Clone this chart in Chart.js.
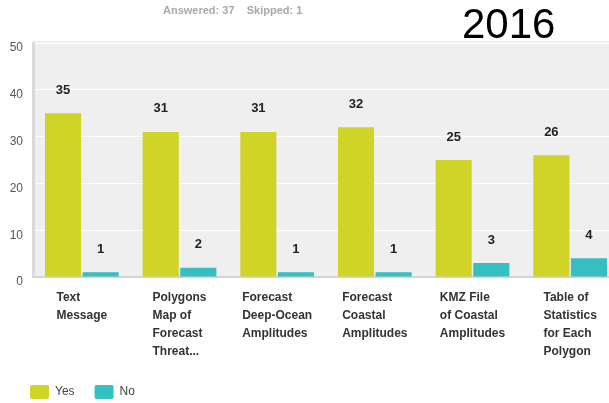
<!DOCTYPE html>
<html lang="en">
<head>
    <title>Survey Results 2016</title>
    <meta charset="utf-8">
    <script src="https://cdn.jsdelivr.net/npm/chart.js@4.4.1/dist/chart.umd.min.js"></script>
    <style>
        body { margin: 0; background: #fff; overflow: hidden; }
        #wrap { position: relative; width: 620px; height: 403px; overflow: hidden; }
        #chart { position: absolute; left: 0; top: 0; width: 620px; height: 403px; }
        #answered { position: absolute; left: 163px; top: 4px; font: bold 11px "Liberation Sans", Arial, sans-serif; color: #a9a9a9; }
        #year { position: absolute; left: 462px; top: 0px; font: 42px "Liberation Sans", Arial, sans-serif; color: #000; }
    </style>
</head>
<body>

<div id="wrap">
    <canvas id="chart" width="620" height="403"></canvas>
    <div id="answered">Answered: 37&nbsp;&nbsp;&nbsp;&nbsp;Skipped: 1</div>
    <div id="year">2016</div>
</div>

<script>
var categories = [
    ['Text', 'Message'],
    ['Polygons', 'Map of', 'Forecast', 'Threat...'],
    ['Forecast', 'Deep-Ocean', 'Amplitudes'],
    ['Forecast', 'Coastal', 'Amplitudes'],
    ['KMZ File', 'of Coastal', 'Amplitudes'],
    ['Table of', 'Statistics', 'for Each', 'Polygon']
];
var yesValues = [35, 31, 31, 32, 25, 26];
var noValues = [1, 2, 1, 1, 3, 4];

var colors = ['#d0d428', '#35bfc0'];
var labelFont = 'bold 12px "Liberation Sans", Arial, sans-serif';

var plotBackground = {
    id: 'plotBackground',
    beforeDraw: function(chart) {
        var a = chart.chartArea;
        var c = chart.ctx;
        c.save();
        c.fillStyle = '#efefef';
        c.fillRect(a.left, a.top - 2, a.right - a.left, a.bottom - a.top + 2);
        c.restore();
    }
};

// category labels: lines left aligned, block centred under the category
var categoryLabels = {
    id: 'categoryLabels',
    afterDraw: function(chart) {
        var c = chart.ctx;
        var xs = chart.scales.x;
        c.save();
        c.font = labelFont;
        c.fillStyle = '#333';
        c.textAlign = 'left';
        c.textBaseline = 'middle';
        categories.forEach(function(lines, i) {
            var w = 0;
            lines.forEach(function(t) { w = Math.max(w, c.measureText(t).width); });
            var x = xs.getPixelForValue(i) - w / 2;
            lines.forEach(function(t, k) {
                c.fillText(t, x, chart.chartArea.bottom + 21 + k * 18);
            });
        });
        c.restore();
    }
};

var valueLabels = {
    id: 'valueLabels',
    afterDatasetsDraw: function(chart) {
        var c = chart.ctx;
        c.save();
        c.font = 'bold 13px "Liberation Sans", Arial, sans-serif';
        c.fillStyle = '#222';
        c.textAlign = 'center';
        c.textBaseline = 'middle';
        chart.data.datasets.forEach(function(ds, d) {
            chart.getDatasetMeta(d).data.forEach(function(bar, i) {
                c.fillText(ds.data[i], bar.x, bar.y - 23);
            });
        });
        c.restore();
    }
};

new Chart(document.getElementById('chart'), {
    type: 'bar',
    data: {
        labels: categories.map(function(l) { return l.join(' '); }),
        datasets: [
            { label: 'Yes', data: yesValues, backgroundColor: colors[0] },
            { label: 'No', data: noValues, backgroundColor: colors[1] }
        ]
    },
    options: {
        responsive: false,
        animation: false,
        categoryPercentage: 0.77,
        barPercentage: 0.96,
        layout: { padding: { left: 10, right: 1, top: 43, bottom: -6 } },
        plugins: {
            tooltip: { enabled: false },
            legend: {
                position: 'bottom',
                align: 'start',
                labels: {
                    boxWidth: 19,
                    boxHeight: 14,
                    padding: 20,
                    useBorderRadius: true,
                    borderRadius: 2,
                    color: '#444',
                    font: { family: '"Liberation Sans", Arial, sans-serif', size: 12 }
                }
            }
        },
        scales: {
            x: {
                grid: { display: false, drawTicks: false },
                border: { display: true, color: '#d4d4d4', width: 2 },
                ticks: { display: false },
                afterFit: function(scale) { scale.height = 88; }
            },
            y: {
                min: 0,
                max: 50,
                grid: { color: '#ffffff', lineWidth: 1, drawTicks: false },
                border: { display: true, color: '#dadada', width: 3 },
                ticks: {
                    stepSize: 10,
                    padding: 10,
                    labelOffset: 5,
                    color: '#555',
                    font: { family: '"Liberation Sans", Arial, sans-serif', size: 12 }
                },
                afterFit: function(scale) { scale.width = 23; }
            }
        }
    },
    plugins: [plotBackground, valueLabels, categoryLabels]
});
</script>
</body>
</html>
